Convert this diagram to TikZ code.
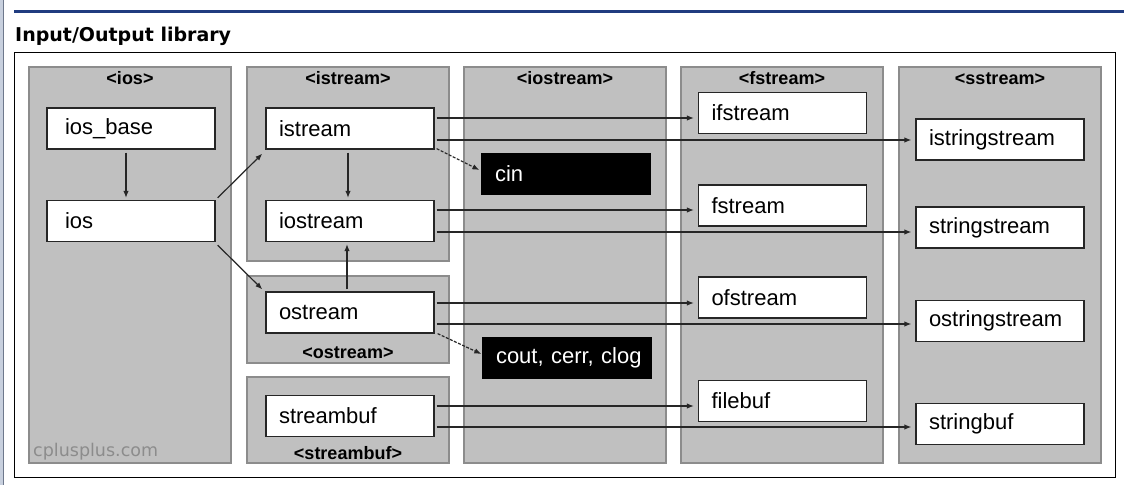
\documentclass[tikz,border=0pt]{standalone}
\usepackage{fontspec}
\setmainfont{Liberation Sans}
\newfontfamily\titlefont{DejaVu Sans}
\usetikzlibrary{arrows.meta}
\definecolor{panelgray}{RGB}{192,192,192}
\definecolor{paneledge}{RGB}{140,140,140}
\definecolor{headblue}{RGB}{32,60,128}
\definecolor{sidebar}{RGB}{200,208,222}
\definecolor{sideline}{RGB}{110,120,140}
\begin{document}
\begin{tikzpicture}[x=1pt,y=-1pt,
  panel/.style={draw=paneledge, fill=panelgray, line width=2.5pt, inner sep=0pt, minimum width=202pt},
  wbox/.style={draw=black!85, fill=white, line width=1.3pt, minimum width=168pt, minimum height=41pt,
    text width=142pt, inner xsep=13pt, inner ysep=0pt, align=left, font=\fontsize{22}{24}\selectfont},
  iosbox/.style={wbox, text width=132pt, inner xsep=18pt},
  bbox/.style={wbox, draw=black, fill=black, text=white},
  plabel/.style={font=\bfseries\fontsize{18}{20}\selectfont, inner sep=0pt, anchor=base},
  arr/.style={-{Latex[length=7pt,width=5.5pt]}, line width=1.2pt, draw=black!85},
  darr/.style={arr, dash pattern=on 3pt off 1.5pt}
]
\useasboundingbox (0,0) rectangle (1124,485);
\fill[white] (0,0) rectangle (1124,485);
% page decorations
\fill[sidebar] (0,0) rectangle (3,485);
\draw[sideline, line width=1pt] (3.5,0) -- (3.5,485);
\draw[headblue, line width=2.5pt] (14,11.5) -- (1124,11.5);
\node[font=\titlefont\bfseries\fontsize{19}{22}\selectfont, anchor=base west, inner sep=0pt] (title) at (15,41) {Input/Output library};
\draw[black, line width=1pt] (14,52) rectangle (1115,477);

% panels
\node[panel, minimum height=396pt] (pios) at (130,265) {};
\node[panel, minimum height=194pt] (pis) at (348,164) {};
\node[panel, minimum height=87pt] (pos) at (348,319.5) {};
\node[panel, minimum height=86pt] (psb) at (348,420) {};
\node[panel, minimum height=396pt] (pio) at (565,265) {};
\node[panel, minimum height=396pt] (pfs) at (782,265) {};
\node[panel, minimum height=396pt] (pss) at (1000,265) {};

% panel labels
\node[plabel] (lios) at (130,84) {<ios>};
\node[plabel] (lis) at (348,84) {<istream>};
\node[plabel] (lio) at (565,84) {<iostream>};
\node[plabel] (lfs) at (782,84) {<fstream>};
\node[plabel] (lss) at (1000,84) {<sstream>};
\node[plabel] (los) at (348,358) {<ostream>};
\node[plabel] (lsb) at (348,459) {<streambuf>};

% watermark
\node[font=\titlefont\fontsize{17.5}{20}\selectfont, text=black!45, anchor=base west, inner sep=0pt] (wm) at (33,456) {cplusplus.com};

% class boxes
\node[iosbox] (iosbase) at (131,128.5) {ios\_base};
\node[iosbox] (ios) at (131,221) {ios};
\node[wbox] (istream) at (350,128.5) {istream};
\node[wbox] (iostream) at (350,221) {iostream};
\node[wbox] (ostream) at (350,312.5) {ostream};
\node[wbox] (streambuf) at (350,416) {streambuf};
\node[bbox] (cin) at (566,174) {cin};
\node[bbox] (cout) at (567,358) {\mbox{cout, cerr, clog}};
\node[wbox] (ifstream) at (782.5,113) {ifstream};
\node[wbox] (fstream) at (782.5,205.5) {fstream};
\node[wbox] (ofstream) at (782.5,297.5) {ofstream};
\node[wbox] (filebuf) at (782.5,401) {filebuf};
\node[wbox] (istringstream) at (1000,139.5) {istringstream};
\node[wbox] (stringstream) at (1000,227.5) {stringstream};
\node[wbox] (ostringstream) at (1000,321) {ostringstream};
\node[wbox] (stringbuf) at (1000,424) {stringbuf};

% inheritance inside headers
\draw[arr] ([shift={(-5,3)}]iosbase.south) -- ([shift={(-5,-2)}]ios.north);
\draw[arr] ([shift={(2,-2)}]ios.north east) -- ([shift={(-3,4)}]istream.south west);
\draw[arr] ([shift={(2,3)}]ios.south east) -- ([shift={(-3,-2)}]ostream.north west);
\draw[arr] ([shift={(-2,3)}]istream.south) -- ([shift={(-2,-2)}]iostream.north);
\draw[arr] ([shift={(-3,-2)}]ostream.north) -- ([shift={(-3,2)}]iostream.south);
\draw[darr] ([shift={(2,-1)}]istream.south east) -- ([shift={(-2,-4)}]cin.west);
\draw[darr] ([shift={(3,0)}]ostream.south east) -- ([shift={(-1,-4)}]cout.west);

% to fstream / sstream
\draw[arr] ([shift={(2,-10.5)}]istream.east) -- ([shift={(-4,5)}]ifstream.west);
\draw[arr] ([shift={(2,11.5)}]istream.east) -- ([shift={(-4,0.5)}]istringstream.west);
\draw[arr] ([shift={(2,-11)}]iostream.east) -- ([shift={(-4,4.5)}]fstream.west);
\draw[arr] ([shift={(2,11)}]iostream.east) -- ([shift={(-4,4.5)}]stringstream.west);
\draw[arr] ([shift={(2,-9.5)}]ostream.east) -- ([shift={(-4,5.5)}]ofstream.west);
\draw[arr] ([shift={(2,11.5)}]ostream.east) -- ([shift={(-4,3)}]ostringstream.west);
\draw[arr] ([shift={(2,-10)}]streambuf.east) -- ([shift={(-4,5)}]filebuf.west);
\draw[arr] ([shift={(2,11)}]streambuf.east) -- ([shift={(-4,3)}]stringbuf.west);
\end{tikzpicture}
\end{document}
